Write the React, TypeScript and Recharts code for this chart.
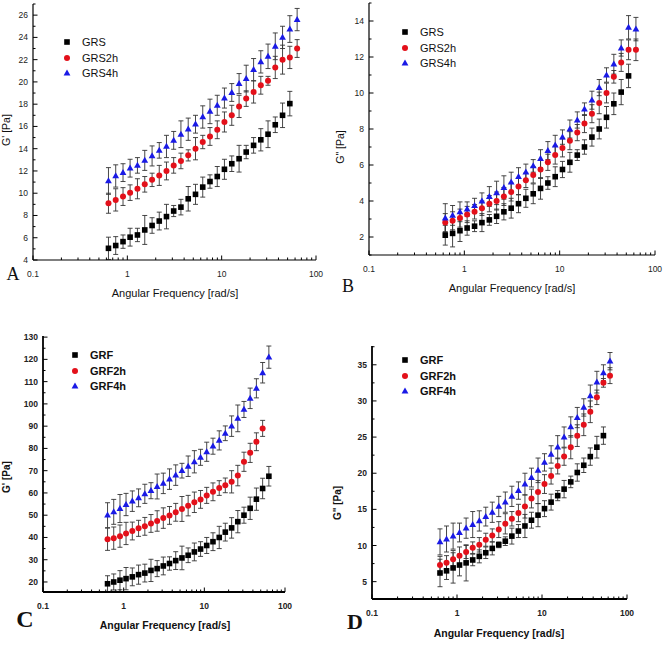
import { ScatterChart, Scatter, XAxis, YAxis, ErrorBar } from 'recharts'

// angular frequency sweep [rad/s], same for every panel
const FREQ = [0.631, 0.753, 0.9, 1.07, 1.28, 1.53, 1.83, 2.18, 2.6, 3.1, 3.7, 4.42, 5.28, 6.3, 7.52, 8.98, 10.7, 12.8, 15.3, 18.2, 21.8, 26, 31, 37, 44.2, 52.8, 63.1]

const X_TICKS = [0.1, 0.2, 0.3, 0.4, 0.5, 0.6, 0.7, 0.8, 0.9, 1, 2, 3, 4, 5, 6, 7, 8, 9, 10, 20, 30, 40, 50, 60, 70, 80, 90, 100]
const X_LABELS = [0.1, 1, 10, 100]

// A: G' of GRS samples
const A_GRS = [5.05, 5.3, 5.65, 6.05, 6.25, 6.7, 7.1, 7.5, 7.9, 8.4, 8.75, 9.5, 9.9, 10.55, 11.05, 11.5, 12.15, 12.65, 13.1, 13.7, 14.3, 14.8, 15.3, 16.15, 17.0, 18.05]
const A_GRS_ERR = [1.0, 0.8, 0.6, 0.8, 0.6, 1.3, 0.7, 0.8, 1.1, 0.5, 0.7, 1.1, 0.9, 0.9, 0.6, 0.9, 0.9, 0.7, 1.2, 0.6, 0.7, 1.0, 1.2, 0.7, 1.1, 1.1]
const A_GRS2H = [9.1, 9.4, 9.7, 10.05, 10.4, 10.8, 11.2, 11.6, 12.0, 12.5, 12.9, 13.4, 14.0, 14.6, 15.1, 15.7, 16.4, 17.0, 17.8, 18.5, 19.1, 19.7, 20.1, 21.3, 22.0, 22.2, 23.0]
const A_GRS2H_ERR = [0.9, 1.0, 0.8, 0.7, 0.9, 0.7, 0.6, 0.9, 0.8, 0.7, 0.7, 0.5, 1.0, 0.6, 0.8, 0.8, 0.9, 0.9, 1.0, 0.7, 1.0, 0.8, 0.4, 1.0, 1.3, 1.0, 0.8]
const A_GRS4H = [11.1, 11.55, 11.85, 12.25, 12.5, 12.95, 13.35, 13.85, 14.2, 14.75, 15.3, 15.75, 16.2, 16.85, 17.35, 17.9, 18.55, 19.05, 19.85, 20.3, 21.1, 21.8, 22.3, 23.2, 24.0, 24.75, 25.6]
const A_GRS4H_ERR = [1.2, 1.0, 0.8, 0.8, 0.7, 0.9, 0.9, 0.7, 1.0, 0.8, 1.2, 1.0, 0.8, 1.0, 1.1, 0.9, 0.9, 0.8, 0.9, 1.2, 1.0, 1.0, 1.1, 1.2, 1.0, 1.2, 1.0]
const A_Y_TICKS = [4, 5, 6, 7, 8, 9, 10, 11, 12, 13, 14, 15, 16, 17, 18, 19, 20, 21, 22, 23, 24, 25, 26, 27]
const A_Y_LABELS = [4, 6, 8, 10, 12, 14, 16, 18, 20, 22, 24, 26]

// B: G" of GRS samples
const B_GRS = [2.1, 2.2, 2.35, 2.5, 2.6, 2.8, 2.95, 3.15, 3.4, 3.6, 3.85, 4.15, 4.4, 4.7, 5.0, 5.35, 5.75, 6.15, 6.55, 7.0, 7.55, 8.0, 8.65, 9.4, 10.05, 10.95]
const B_GRS_ERR = [0.55, 0.75, 0.6, 0.4, 0.3, 0.5, 0.3, 0.4, 0.45, 0.55, 0.5, 0.5, 0.55, 0.6, 0.35, 0.55, 0.45, 0.55, 0.3, 0.4, 0.5, 0.55, 0.6, 0.6, 0.7, 0.65]
const B_GRS2H = [2.8, 2.9, 3.05, 3.25, 3.4, 3.6, 3.85, 4.0, 4.25, 4.5, 4.8, 5.15, 5.45, 5.75, 6.15, 6.55, 6.95, 7.35, 7.8, 8.3, 8.85, 9.45, 10.0, 10.9, 11.7, 12.4, 12.4]
const B_GRS2H_ERR = [0.5, 0.5, 0.5, 0.45, 0.4, 0.4, 0.45, 0.5, 0.5, 0.5, 0.45, 0.4, 0.45, 0.5, 0.45, 0.5, 0.5, 0.5, 0.45, 0.5, 0.5, 0.6, 0.55, 0.35, 0.5, 0.55, 0.6]
const B_GRS4H = [3.05, 3.2, 3.4, 3.55, 3.75, 4.0, 4.25, 4.45, 4.75, 5.05, 5.35, 5.6, 5.95, 6.35, 6.8, 7.1, 7.55, 8.0, 8.5, 9.1, 9.6, 10.3, 11.0, 11.6, 12.5, 13.65, 13.55]
const B_GRS4H_ERR = [0.8, 0.55, 0.55, 0.4, 0.4, 0.45, 0.55, 0.65, 0.65, 0.55, 0.5, 0.45, 0.35, 0.5, 0.5, 0.55, 0.4, 0.5, 0.45, 0.35, 0.5, 0.45, 0.4, 0.55, 0.45, 0.65, 0.65]
const B_Y_TICKS = [1, 2, 3, 4, 5, 6, 7, 8, 9, 10, 11, 12, 13, 14, 15]
const B_Y_LABELS = [2, 4, 6, 8, 10, 12, 14]

// C: G' of GRF samples
const C_GRF = [19.2, 20.0, 20.8, 21.5, 22.3, 23.3, 24.0, 25.2, 26.0, 27.2, 28.3, 29.6, 30.8, 32.0, 33.5, 34.8, 36.4, 38.1, 40.0, 42.4, 44.3, 47.1, 50.0, 53.1, 57.2, 62.0, 67.5]
const C_GRF_ERR = [3.6, 3.6, 4.3, 5.0, 4.0, 4.3, 4.0, 5.0, 3.6, 4.0, 3.0, 4.0, 5.3, 3.3, 4.0, 3.3, 3.6, 4.0, 5.0, 4.0, 4.6, 5.0, 3.6, 5.0, 5.0, 4.6, 4.4]
const C_GRF2H = [39.2, 39.7, 40.6, 41.8, 42.9, 44.1, 45.0, 46.3, 47.4, 48.7, 49.9, 51.3, 52.8, 54.3, 55.8, 57.1, 58.9, 60.5, 62.2, 63.4, 65.0, 67.8, 74.0, 78.0, 83.0, 89.0]
const C_GRF2H_ERR = [5.0, 5.0, 5.0, 5.0, 4.0, 3.6, 4.0, 4.0, 4.6, 4.6, 4.0, 4.0, 5.6, 4.6, 4.6, 4.0, 3.6, 4.0, 3.3, 3.3, 5.0, 4.6, 4.3, 4.3, 4.0, 3.6]
const C_GRF4H = [50.0, 51.5, 53.0, 54.8, 56.3, 57.8, 59.6, 61.0, 62.9, 64.3, 66.2, 68.0, 70.0, 72.0, 74.0, 76.0, 78.5, 81.0, 83.6, 86.8, 90.0, 93.5, 97.5, 102.5, 107.0, 114.0, 121.0]
const C_GRF4H_ERR = [5.6, 5.6, 6.3, 5.0, 4.6, 4.0, 4.3, 3.6, 5.6, 4.6, 4.6, 4.6, 3.3, 4.6, 5.0, 3.6, 4.3, 3.6, 4.3, 3.3, 4.6, 6.0, 3.6, 4.6, 4.3, 4.6, 5.0]
const C_Y_TICKS = [20, 25, 30, 35, 40, 45, 50, 55, 60, 65, 70, 75, 80, 85, 90, 95, 100, 105, 110, 115, 120, 125, 130]
const C_Y_LABELS = [20, 30, 40, 50, 60, 70, 80, 90, 100, 110, 120, 130]

// D: G" of GRF samples
const D_GRF = [6.2, 6.5, 6.9, 7.3, 7.6, 8.0, 8.5, 9.0, 9.6, 10.1, 10.6, 11.3, 12.0, 12.7, 13.5, 14.2, 15.1, 16.0, 16.9, 17.8, 18.8, 20.1, 21.1, 22.3, 23.6, 25.2]
const D_GRF_ERR = [1.9, 1.2, 2.1, 1.5, 2.5, 0.8, 0.9, 0.8, 0.9, 0.4, 0.6, 1.1, 0.9, 1.6, 1.1, 1.6, 1.1, 1.1, 0.7, 1.2, 0.8, 1.2, 1.0, 1.2, 1.5, 1.2]
const D_GRF2H = [7.3, 7.6, 8.1, 8.6, 9.1, 9.7, 10.1, 10.8, 11.4, 12.2, 13.0, 13.7, 14.5, 15.4, 16.5, 17.4, 18.5, 19.6, 21.0, 22.3, 23.6, 25.2, 26.7, 28.5, 30.5, 32.5, 33.5]
const D_GRF2H_ERR = [1.2, 1.0, 1.2, 1.2, 0.9, 0.8, 1.0, 0.9, 0.9, 1.1, 1.4, 1.0, 1.2, 1.6, 1.3, 1.6, 1.3, 1.1, 1.1, 1.2, 1.6, 1.5, 1.5, 1.5, 1.0, 0.6, 1.1]
const D_GRF4H = [10.5, 10.9, 11.3, 11.8, 12.4, 12.9, 13.4, 14.0, 14.6, 15.4, 16.0, 16.8, 17.6, 18.5, 19.4, 20.4, 21.5, 22.6, 23.6, 25.0, 26.4, 27.7, 29.1, 30.7, 32.6, 33.9, 35.5]
const D_GRF4H_ERR = [1.8, 1.8, 1.8, 1.3, 1.4, 1.8, 1.4, 1.3, 1.4, 1.4, 1.4, 1.4, 1.2, 1.5, 1.3, 1.7, 1.2, 1.2, 1.6, 1.4, 1.4, 1.4, 1.2, 1.5, 1.5, 1.1, 1.2]
const D_Y_TICKS = [5, 7.5, 10, 12.5, 15, 17.5, 20, 22.5, 25, 27.5, 30, 32.5, 35, 37.5]
const D_Y_LABELS = [5, 10, 15, 20, 25, 30, 35]

const SANS = '"Liberation Sans", Arial, sans-serif'
const SERIF = '"Liberation Serif", "Times New Roman", serif'
const COLORS = { square: '#000000', circle: '#e3101a', triangle: '#1a1ae6' }

type Kind = 'square' | 'circle' | 'triangle'
type Series = { name: string; kind: Kind; values: number[]; errors: number[] }
type Rect = { l: number; r: number; t: number; b: number }

const toPoints = (values: number[], errors: number[]) =>
  values.map((y, i) => ({ x: FREQ[i], y, e: errors[i] }))

function Marker({ kind, cx, cy }: { kind: Kind; cx: number; cy: number }) {
  const fill = COLORS[kind]
  if (kind === 'square') return <rect x={cx - 2.8} y={cy - 2.8} width={5.6} height={5.6} fill={fill} />
  if (kind === 'circle') return <circle cx={cx} cy={cy} r={3} fill={fill} />
  return <polygon points={`${cx},${cy - 3.6} ${cx - 3.4},${cy + 2.4} ${cx + 3.4},${cy + 2.4}`} fill={fill} />
}

function Txt({ x, y, size, bold, family = SANS, rotate = 0, left, children }: any) {
  return (
    <div
      style={{
        position: 'absolute',
        left: x,
        top: y,
        transform: `translate(${left ? '0' : '-50%'}, -50%) rotate(${rotate}deg)`,
        fontFamily: family,
        fontSize: size,
        fontWeight: bold ? 700 : 400,
        lineHeight: 1,
        whiteSpace: 'nowrap',
        color: '#111',
      }}
    >
      {children}
    </div>
  )
}

interface PanelProps {
  plot: Rect
  yDomain: [number, number]
  yTicks: number[]
  yLabels: number[]
  series: Series[]
  bold?: boolean
  legend: { x: number; y: number }
  letter: { text: string; x: number; y: number; size: number }
  xTitle: { x: number; y: number }
  yTitle: { text: string; x: number; y: number }
}

function Panel(p: PanelProps) {
  const { plot, bold } = p
  // chart spans from the page origin to a bit past the plot box
  const W = plot.r + 20
  const H = plot.b + 25
  const margin = { top: plot.t, right: W - plot.r, left: plot.l - 30, bottom: H - plot.b - 20 }
  const axisW = bold ? 1.8 : 1.2
  const tickFont = { fontFamily: SANS, fontSize: bold ? 8.5 : 8.5, fontWeight: bold ? 700 : 400, fill: '#222' }

  const xTick = (t: any) => {
    const major = X_LABELS.includes(t.payload.value)
    return (
      <g key={`xt-${t.index}`}>
        <line x1={t.x} x2={t.x} y1={t.y} y2={t.y - (major ? 4.5 : 2.5)} stroke="#000" strokeWidth={1} />
        {major && (
          <text x={t.x} y={t.y + 17} textAnchor="middle" {...tickFont}>
            {t.payload.value}
          </text>
        )}
      </g>
    )
  }
  const yTick = (t: any) => {
    const major = p.yLabels.includes(t.payload.value)
    return (
      <g key={`yt-${t.index}`}>
        <line x1={t.x} x2={t.x + (major ? 4.5 : 2.5)} y1={t.y} y2={t.y} stroke="#000" strokeWidth={1} />
        {major && (
          <text x={t.x - 5} y={t.y + 3} textAnchor="end" {...tickFont}>
            {t.payload.value}
          </text>
        )}
      </g>
    )
  }

  return (
    <>
      <div style={{ position: 'absolute', left: 0, top: 0 }}>
        <ScatterChart width={W} height={H} margin={margin}>
          <XAxis
            type="number"
            dataKey="x"
            scale="log"
            domain={[0.1, 100]}
            ticks={X_TICKS}
            interval={0}
            allowDataOverflow
            height={20}
            tickSize={0}
            tickMargin={0}
            tickLine={false}
            axisLine={{ stroke: '#000', strokeWidth: axisW }}
            tick={xTick}
          />
          <YAxis
            type="number"
            dataKey="y"
            domain={p.yDomain}
            ticks={p.yTicks}
            interval={0}
            allowDataOverflow
            width={30}
            tickSize={0}
            tickMargin={0}
            tickLine={false}
            axisLine={{ stroke: '#000', strokeWidth: axisW }}
            tick={yTick}
          />
          {p.series.map(s => (
            <Scatter
              key={s.name}
              name={s.name}
              data={toPoints(s.values, s.errors)}
              shape={(props: any) => <Marker kind={s.kind} cx={props.cx} cy={props.cy} />}
              isAnimationActive={false}
            >
              <ErrorBar dataKey="e" direction="y" width={2.5} stroke="#333" strokeWidth={0.9} />
            </Scatter>
          ))}
        </ScatterChart>
      </div>
      {p.series.map((s, i) => (
        <div key={s.name}>
          <svg
            width={10}
            height={10}
            style={{ position: 'absolute', left: p.legend.x - 5, top: p.legend.y + i * 15.5 - 5 }}
          >
            <Marker kind={s.kind} cx={5} cy={5} />
          </svg>
          <Txt x={p.legend.x + 15} y={p.legend.y + i * 15.5} size={11} bold={bold} left>
            {s.name}
          </Txt>
        </div>
      ))}
      <Txt x={p.letter.x} y={p.letter.y} size={p.letter.size} bold={bold} family={SERIF}>
        {p.letter.text}
      </Txt>
      <Txt x={p.xTitle.x} y={p.xTitle.y} size={bold ? 10.5 : 11} bold={bold}>
        Angular Frequency [rad/s]
      </Txt>
      <Txt x={p.yTitle.x} y={p.yTitle.y} size={bold ? 10 : 10.5} bold={bold} rotate={-90}>
        {p.yTitle.text}
      </Txt>
    </>
  )
}

export default function App() {
  return (
    <div style={{ position: 'absolute', left: 0, top: 0, width: 667, height: 645, background: '#fff', overflow: 'hidden' }}>
      <Panel
        plot={{ l: 33, r: 316, t: 4, b: 260 }}
        yDomain={[4, 27]}
        yTicks={A_Y_TICKS}
        yLabels={A_Y_LABELS}
        series={[
          { name: 'GRS', kind: 'square', values: A_GRS, errors: A_GRS_ERR },
          { name: 'GRS2h', kind: 'circle', values: A_GRS2H, errors: A_GRS2H_ERR },
          { name: 'GRS4h', kind: 'triangle', values: A_GRS4H, errors: A_GRS4H_ERR },
        ]}
        legend={{ x: 67, y: 42 }}
        letter={{ text: 'A', x: 13, y: 274, size: 18 }}
        xTitle={{ x: 175, y: 293 }}
        yTitle={{ text: "G' [Pa]", x: 6, y: 130 }}
      />
      <Panel
        plot={{ l: 369, r: 655, t: 3, b: 255 }}
        yDomain={[1, 15]}
        yTicks={B_Y_TICKS}
        yLabels={B_Y_LABELS}
        series={[
          { name: 'GRS', kind: 'square', values: B_GRS, errors: B_GRS_ERR },
          { name: 'GRS2h', kind: 'circle', values: B_GRS2H, errors: B_GRS2H_ERR },
          { name: 'GRS4h', kind: 'triangle', values: B_GRS4H, errors: B_GRS4H_ERR },
        ]}
        legend={{ x: 405, y: 32 }}
        letter={{ text: 'B', x: 348, y: 286, size: 18 }}
        xTitle={{ x: 512, y: 288 }}
        yTitle={{ text: 'G" [Pa]', x: 340, y: 147 }}
      />
      <Panel
        plot={{ l: 43, r: 285, t: 336, b: 592 }}
        yDomain={[15.5, 130.5]}
        yTicks={C_Y_TICKS}
        yLabels={C_Y_LABELS}
        bold
        series={[
          { name: 'GRF', kind: 'square', values: C_GRF, errors: C_GRF_ERR },
          { name: 'GRF2h', kind: 'circle', values: C_GRF2H, errors: C_GRF2H_ERR },
          { name: 'GRF4h', kind: 'triangle', values: C_GRF4H, errors: C_GRF4H_ERR },
        ]}
        legend={{ x: 75, y: 355 }}
        letter={{ text: 'C', x: 25, y: 619, size: 24 }}
        xTitle={{ x: 165, y: 625 }}
        yTitle={{ text: "G' [Pa]", x: 7, y: 477 }}
      />
      <Panel
        plot={{ l: 372, r: 627, t: 346, b: 599 }}
        yDomain={[2.6, 37.6]}
        yTicks={D_Y_TICKS}
        yLabels={D_Y_LABELS}
        bold
        series={[
          { name: 'GRF', kind: 'square', values: D_GRF, errors: D_GRF_ERR },
          { name: 'GRF2h', kind: 'circle', values: D_GRF2H, errors: D_GRF2H_ERR },
          { name: 'GRF4h', kind: 'triangle', values: D_GRF4H, errors: D_GRF4H_ERR },
        ]}
        legend={{ x: 405, y: 360 }}
        letter={{ text: 'D', x: 355, y: 622, size: 22 }}
        xTitle={{ x: 499, y: 633 }}
        yTitle={{ text: 'G" [Pa]', x: 338, y: 503 }}
      />
    </div>
  )
}
